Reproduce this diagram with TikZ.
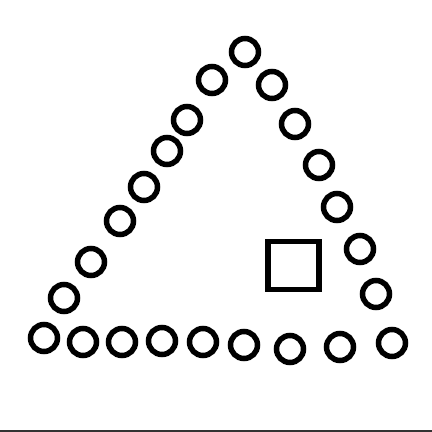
\documentclass[tikz,border=0pt]{standalone}
\usepackage{tikz}
\usepackage{xcolor}

\tikzset{
  ring/.style={draw, circle, line width=5.5pt, minimum size=27pt, inner sep=0pt},
  box/.style={draw, rectangle, line width=5.5pt, minimum width=51pt, minimum height=48pt, inner sep=0pt}
}

\begin{document}
\begin{tikzpicture}[x=1pt, y=-1pt]
\useasboundingbox (0,0) rectangle (432,432);
\draw node(t)[ring] at (245,52) {};
\draw node(l1)[ring] at (212,80) {};
\draw node(l2)[ring] at (187,120) {};
\draw node(l3)[ring] at (167,151) {};
\draw node(l4)[ring] at (144,187) {};
\draw node(l5)[ring] at (120,221) {};
\draw node(l6)[ring] at (91,262) {};
\draw node(l7)[ring] at (64,298) {};
\draw node(r1)[ring] at (272,85) {};
\draw node(r2)[ring] at (295,124) {};
\draw node(r3)[ring] at (319,165) {};
\draw node(r4)[ring] at (337,207) {};
\draw node(r5)[ring] at (360,249) {};
\draw node(r6)[ring] at (376,294) {};
\draw node(b1)[ring] at (44,338) {};
\draw node(b2)[ring] at (83,342) {};
\draw node(b3)[ring] at (122,342) {};
\draw node(b4)[ring] at (162,341) {};
\draw node(b5)[ring] at (203,342) {};
\draw node(b6)[ring] at (244,345) {};
\draw node(b7)[ring] at (290,349) {};
\draw node(b8)[ring] at (340,347) {};
\draw node(b9)[ring] at (392,343) {};
\draw node(sq)[box] at (293.5,265.5) {};
\draw[line width=1.2pt, black!80] (0,431) -- (432,431);
\end{tikzpicture}
\end{document}
